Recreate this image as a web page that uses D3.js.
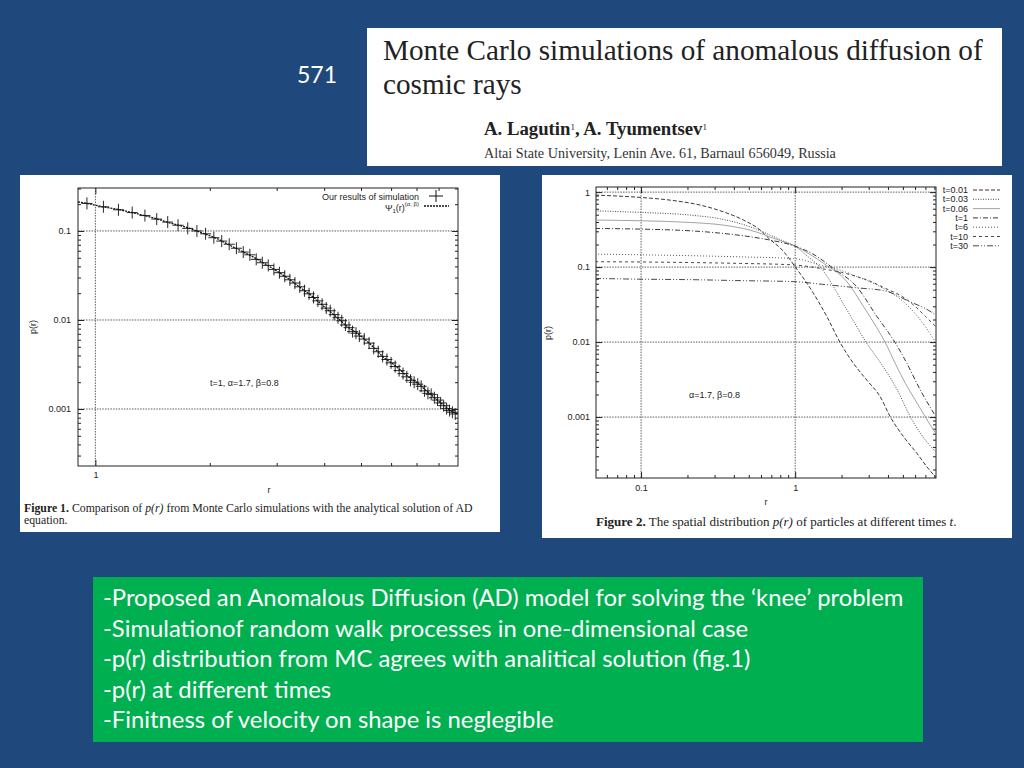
<!DOCTYPE html>
<html>
<head>
<meta charset="UTF-8">
<script src="https://d3js.org/d3.v7.min.js"></script>
<style>
  body { margin: 0; background: #1f497d; }
  svg { display: block; }
</style>
</head>
<body>
<svg id="slide" width="1024" height="768"></svg>
<script>

// ---- slide text ----
var slideNumber = "571";
var titleLines = ["Monte Carlo simulations of anomalous diffusion of", "cosmic rays"];
var authorsLine = "A. Lagutin, A. Tyumentsev";
var affiliationLine = "Altai State University, Lenin Ave. 61, Barnaul 656049, Russia";
var bulletLines = [
  "-Proposed an Anomalous Diffusion (AD) model for solving the \u2018knee\u2019 problem",
  "-Simulationof random walk processes in one-dimensional case",
  "-p(r) distribution from MC agrees with analitical solution (fig.1)",
  "-p(r) at different times",
  "-Finitness of velocity on shape is neglegible"
];

// ---- figure 1: analytical curve + MC points (t=1, alpha=1.7, beta=0.8) ----
var fig1CurveR = [0.9, 0.945, 1.045, 1.145, 1.24, 1.346, 1.458, 1.55, 1.77, 1.92, 2.08, 2.25, 2.42, 2.59, 2.81, 3.02, 3.21, 3.48, 3.73, 4.0, 4.3, 4.61, 4.95, 5.32, 5.71, 6.12, 6.57, 7.05, 7.57, 8.13, 8.72, 8.95];
var fig1CurveP = [0.212, 0.205, 0.187, 0.175, 0.162, 0.149, 0.136, 0.125, 0.107, 0.094, 0.083, 0.0697, 0.0596, 0.0515, 0.0422, 0.0349, 0.0294, 0.0227, 0.0183, 0.0141, 0.0109, 0.0084, 0.0068, 0.00524, 0.00387, 0.00312, 0.00241, 0.00194, 0.0015, 0.00116, 0.00093, 0.00088];
var fig1SimR = [0.95, 1.05, 1.15, 1.25, 1.35, 1.45, 1.55, 1.65, 1.75, 1.85, 1.95, 2.05, 2.15, 2.25, 2.35, 2.45, 2.55, 2.65, 2.75, 2.85, 2.95, 3.05, 3.15, 3.25, 3.35, 3.45, 3.55, 3.65, 3.75, 3.85, 3.95, 4.05, 4.15, 4.25, 4.35, 4.45, 4.55, 4.65, 4.75, 4.85, 4.95, 5.1, 5.25, 5.4, 5.55, 5.7, 5.85, 6.0, 6.15, 6.3, 6.45, 6.6, 6.75, 6.9, 7.05, 7.2, 7.35, 7.5, 7.65, 7.8, 7.95, 8.1, 8.25, 8.4, 8.55, 8.7, 8.85];
var fig1SimP = [0.204, 0.187, 0.173, 0.161, 0.149, 0.136, 0.126, 0.116, 0.107, 0.100, 0.093, 0.084, 0.077, 0.071, 0.064, 0.058, 0.054, 0.048, 0.044, 0.041, 0.037, 0.034, 0.031, 0.0283, 0.026, 0.0236, 0.0213, 0.0197, 0.0179, 0.0164, 0.0150, 0.0136, 0.0127, 0.0115, 0.0106, 0.0098, 0.0088, 0.0082, 0.0074, 0.0071, 0.0066, 0.0061, 0.0055, 0.0048, 0.0044, 0.0039, 0.0036, 0.0033, 0.0030, 0.0027, 0.0025, 0.0023, 0.0021, 0.0020, 0.0019, 0.0018, 0.0016, 0.0015, 0.00146, 0.00134, 0.00126, 0.00117, 0.00109, 0.00101, 0.00096, 0.00092, 0.00088];
var fig1YMajor = [0.1, 0.01, 0.001];
var fig1YLabels = ["0.1", "0.01", "0.001"];
var fig1YMinor = [0.0003, 0.0004, 0.0005, 0.0006, 0.0007, 0.0008, 0.0009, 0.002, 0.003, 0.004, 0.005, 0.006, 0.007, 0.008, 0.009, 0.02, 0.03, 0.04, 0.05, 0.06, 0.07, 0.08, 0.09, 0.2, 0.3];
var fig1XMajor = [1];
var fig1XLabels = ["1"];
var fig1XMinor = [2, 3, 4, 5, 6, 7, 8];

// ---- figure 2: p(r) at different times ----
var fig2Names = ["t=0.01", "t=0.03", "t=0.06", "t=1", "t=6", "t=10", "t=30"];
var fig2R = [
  [0.0503, 0.0986, 0.154, 0.242, 0.342, 0.462, 0.593, 0.675, 0.824, 1.0, 1.315, 1.61, 1.96, 2.39, 2.92, 3.56, 4.14, 5.05, 6.17, 7.16, 8.11],
  [0.0503, 0.0986, 0.208, 0.342, 0.51, 0.689, 0.85, 1.0, 1.2, 1.45, 2.17, 2.9, 3.6, 4.6, 5.6, 6.6, 8.1],
  [0.0503, 0.0986, 0.208, 0.342, 0.51, 0.76, 1.0, 1.53, 2.17, 2.78, 3.39, 3.85, 4.5, 5.2, 6.0, 7.0, 8.1],
  [0.0503, 0.0986, 0.208, 0.342, 0.51, 0.689, 1.0, 1.3, 1.77, 2.51, 3.39, 4.46, 5.31, 6.48, 8.1],
  [0.0503, 0.0986, 0.208, 0.44, 0.975, 1.5, 2.0, 2.5, 3.0, 3.86, 5.0, 6.0, 7.0, 8.2],
  [0.0503, 0.0986, 0.208, 0.44, 0.975, 1.5, 2.0, 2.5, 3.0, 3.86, 5.0, 6.0, 7.0, 8.2],
  [0.0503, 0.0986, 0.208, 0.44, 0.975, 1.5, 2.5, 3.86, 5.47, 7.0, 8.2]
];
var fig2P = [
  [0.912, 0.85, 0.782, 0.671, 0.546, 0.424, 0.311, 0.241, 0.169, 0.101, 0.0446, 0.0217, 0.0098, 0.0052, 0.0031, 0.00187, 0.00101, 0.000546, 0.000328, 0.000217, 0.00016],
  [0.563, 0.536, 0.494, 0.432, 0.345, 0.267, 0.22, 0.19, 0.14, 0.1, 0.0267, 0.0098, 0.0052, 0.0023, 0.001, 0.00058, 0.00035],
  [0.424, 0.415, 0.394, 0.363, 0.311, 0.234, 0.19, 0.112, 0.0637, 0.0296, 0.0155, 0.0098, 0.005, 0.0028, 0.0017, 0.001, 0.00062],
  [0.328, 0.321, 0.305, 0.281, 0.254, 0.229, 0.19, 0.15, 0.096, 0.0546, 0.022, 0.0098, 0.0052, 0.0023, 0.00105],
  [0.149, 0.146, 0.142, 0.137, 0.13, 0.105, 0.09, 0.075, 0.065, 0.05, 0.035, 0.024, 0.016, 0.0098],
  [0.118, 0.117, 0.115, 0.112, 0.107, 0.095, 0.085, 0.075, 0.066, 0.052, 0.04, 0.03, 0.022, 0.016],
  [0.0706, 0.069, 0.068, 0.066, 0.064, 0.059, 0.053, 0.048, 0.035, 0.028, 0.023]
];
var fig2Dash = ["4,2", "1,1.5", null, "5,2,1,2", "1,2", "3,3", "6,2,1,2,1,2"];
var fig2Color = ["#222", "#333", "#999", "#222", "#444", "#333", "#333"];
var fig2YMajor = [1, 0.1, 0.01, 0.001];
var fig2YLabels = ["1", "0.1", "0.01", "0.001"];
var fig2YMinor = [0.0002, 0.0003, 0.0004, 0.0005, 0.0006, 0.0007, 0.0008, 0.0009, 0.002, 0.003, 0.004, 0.005, 0.006, 0.007, 0.008, 0.009, 0.02, 0.03, 0.04, 0.05, 0.06, 0.07, 0.08, 0.09, 0.2, 0.3, 0.4, 0.5, 0.6, 0.7, 0.8, 0.9];
var fig2XMajor = [0.1, 1];
var fig2XLabels = ["0.1", "1"];
var fig2XMinor = [0.06, 0.07, 0.08, 0.09, 0.2, 0.3, 0.4, 0.5, 0.6, 0.7, 0.8, 0.9, 2, 3, 4, 5, 6, 7, 8];

var svg = d3.select("#slide");
var SANS = "Liberation Sans, Arial, sans-serif";
var SERIF = "Liberation Serif, Times New Roman, serif";

// scale a text's font so it spans the given width
function fitWidth(t, w) {
  var cur = t.node().getComputedTextLength();
  var fs = parseFloat(t.attr("font-size")) * w / cur;
  t.attr("font-size", fs);
  return fs;
}

svg.append("rect").attr("width", 1024).attr("height", 768).attr("fill", "#1f497d");

// slide number
svg.append("text").attr("x", 297).attr("y", 83)
  .attr("font-family", "Lato, Open Sans, sans-serif").attr("font-size", 23)
  .attr("fill", "#fff").text(slideNumber);

// paper title block
svg.append("rect").attr("x", 367).attr("y", 28).attr("width", 635).attr("height", 138).attr("fill", "#fff");
var t1 = svg.append("text").attr("x", 383).attr("y", 60)
  .attr("font-family", SERIF).attr("font-size", 24).attr("fill", "#222").text(titleLines[0]);
var titleSize = fitWidth(t1, 600);
svg.append("text").attr("x", 383).attr("y", 94)
  .attr("font-family", SERIF).attr("font-size", titleSize).attr("fill", "#222").text(titleLines[1]);
var auth = svg.append("text").attr("x", 484).attr("y", 135)
  .attr("font-family", SERIF).attr("font-weight", "bold").attr("font-size", 14).attr("fill", "#222");
var names = authorsLine.split(", ");
names.forEach(function(n, i) {
  auth.append("tspan").attr("dy", i ? 5 : 0).text((i ? ", " : "") + n);
  auth.append("tspan").attr("font-size", 9).attr("dy", -5).attr("font-weight", "normal").text("1");
});
fitWidth(auth, 226);
var aff = svg.append("text").attr("x", 484).attr("y", 158)
  .attr("font-family", SERIF).attr("font-size", 11).attr("fill", "#333").text(affiliationLine);
fitWidth(aff, 352);

// generic log-log gnuplot-like panel
function drawPanel(o) {
  var g = svg.append("g");
  var x = d3.scaleLog().domain(o.xDomain).range([o.left, o.right]);
  var y = d3.scaleLog().domain(o.yDomain).range([o.bottom, o.top]);

  g.selectAll(".gx").data(o.xMajor).enter().append("line")
    .attr("x1", function(d) { return x(d); }).attr("x2", function(d) { return x(d); })
    .attr("y1", o.top).attr("y2", o.bottom)
    .attr("stroke", "#333").attr("stroke-width", 0.8).attr("stroke-dasharray", "1.5,1.2");
  g.selectAll(".gy").data(o.yMajor).enter().append("line")
    .attr("y1", function(d) { return y(d); }).attr("y2", function(d) { return y(d); })
    .attr("x1", o.left).attr("x2", o.right)
    .attr("stroke", "#333").attr("stroke-width", 0.8).attr("stroke-dasharray", "1.5,1.2");

  function style(sel) {
    sel.attr("font-size", 9).attr("font-family", SANS);
    sel.select(".domain").remove();
    sel.selectAll(".tick line").attr("stroke", "#222");
    sel.selectAll("text").attr("fill", "#222");
  }
  function lab(labels) { return function(d, i) { return labels[i]; }; }

  g.append("g").attr("transform", "translate(0," + o.bottom + ")")
    .call(d3.axisBottom(x).tickValues(o.xMajor).tickSize(-6).tickPadding(o.xPad).tickFormat(lab(o.xLabels))).call(style);
  g.append("g").attr("transform", "translate(0," + o.bottom + ")")
    .call(d3.axisBottom(x).tickValues(o.xMinor).tickSize(-3).tickFormat("")).call(style);
  g.append("g").attr("transform", "translate(0," + o.top + ")")
    .call(d3.axisTop(x).tickValues(o.xMajor).tickSize(-6).tickFormat("")).call(style);
  g.append("g").attr("transform", "translate(0," + o.top + ")")
    .call(d3.axisTop(x).tickValues(o.xMinor).tickSize(-3).tickFormat("")).call(style);
  g.append("g").attr("transform", "translate(" + o.left + ",0)")
    .call(d3.axisLeft(y).tickValues(o.yMajor).tickSize(-6).tickPadding(o.yPad).tickFormat(lab(o.yLabels))).call(style);
  g.append("g").attr("transform", "translate(" + o.left + ",0)")
    .call(d3.axisLeft(y).tickValues(o.yMinor).tickSize(-3).tickFormat("")).call(style);
  g.append("g").attr("transform", "translate(" + o.right + ",0)")
    .call(d3.axisRight(y).tickValues(o.yMajor).tickSize(-6).tickFormat("")).call(style);
  g.append("g").attr("transform", "translate(" + o.right + ",0)")
    .call(d3.axisRight(y).tickValues(o.yMinor).tickSize(-3).tickFormat("")).call(style);

  g.append("rect").attr("x", o.left).attr("y", o.top)
    .attr("width", o.right - o.left).attr("height", o.bottom - o.top)
    .attr("fill", "none").attr("stroke", "#222").attr("stroke-width", 1);

  g.append("clipPath").attr("id", o.id).append("rect")
    .attr("x", o.left).attr("y", o.top).attr("width", o.right - o.left).attr("height", o.bottom - o.top);
  var plot = g.append("g").attr("clip-path", "url(#" + o.id + ")");

  g.append("text").attr("x", o.rX).attr("y", o.rY).attr("text-anchor", "middle")
    .attr("font-family", SANS).attr("font-size", 9).attr("fill", "#222").text("r");
  g.append("text").attr("transform", "translate(" + o.pX + "," + o.pY + ") rotate(-90)")
    .attr("text-anchor", "middle").attr("font-family", SANS).attr("font-size", 9).attr("fill", "#222")
    .text("p(r)");
  return { x: x, y: y, g: g, plot: plot };
}

// ---------- Figure 1 ----------
svg.append("rect").attr("x", 20).attr("y", 175).attr("width", 480).attr("height", 357).attr("fill", "#fff");
var p1 = drawPanel({
  id: "clip1", left: 78, right: 458, top: 188, bottom: 466,
  xDomain: [0.9, 9], yDomain: [0.000229, 0.304],
  xMajor: fig1XMajor, xLabels: fig1XLabels, xMinor: fig1XMinor,
  yMajor: fig1YMajor, yLabels: fig1YLabels, yMinor: fig1YMinor,
  xPad: 6, yPad: 7, rX: 269, rY: 493, pX: 36, pY: 327
});
var line1 = d3.line().x(function(d) { return p1.x(d[0]); }).y(function(d) { return p1.y(d[1]); })
  .curve(d3.curveMonotoneX);
p1.plot.append("path").datum(d3.zip(fig1CurveR, fig1CurveP)).attr("d", line1)
  .attr("fill", "none").attr("stroke", "#111").attr("stroke-width", 1.3).attr("stroke-dasharray", "2,1");
var sims = p1.plot.selectAll(".sim").data(d3.zip(fig1SimR, fig1SimP)).enter().append("g")
  .attr("transform", function(d) { return "translate(" + p1.x(d[0]) + "," + p1.y(d[1]) + ")"; });
sims.append("line").attr("x1", -5.5).attr("x2", 5.5).attr("stroke", "#111").attr("stroke-width", 0.9);
sims.append("line").attr("y1", -6).attr("y2", 6).attr("stroke", "#111").attr("stroke-width", 0.9);

// legend fig 1
p1.g.append("text").attr("x", 419).attr("y", 200).attr("text-anchor", "end")
  .attr("font-family", SANS).attr("font-size", 9).attr("fill", "#222").text("Our results of simulation");
p1.g.append("line").attr("x1", 429).attr("x2", 443).attr("y1", 196).attr("y2", 196).attr("stroke", "#111");
p1.g.append("line").attr("x1", 436).attr("x2", 436).attr("y1", 190).attr("y2", 202).attr("stroke", "#111");
var psi = p1.g.append("text").attr("x", 419).attr("y", 211).attr("text-anchor", "end")
  .attr("font-family", SANS).attr("font-size", 9).attr("fill", "#222");
psi.append("tspan").text("\u03A8");
psi.append("tspan").attr("font-size", 6).attr("dy", 2).text("1");
psi.append("tspan").attr("dy", -2).text("(r)");
psi.append("tspan").attr("font-size", 6).attr("dy", -5).text("(\u03B1, \u03B2)");
p1.g.append("line").attr("x1", 424).attr("x2", 449).attr("y1", 206).attr("y2", 206)
  .attr("stroke", "#111").attr("stroke-width", 1.3).attr("stroke-dasharray", "2,1");
p1.g.append("text").attr("x", 210).attr("y", 386)
  .attr("font-family", SANS).attr("font-size", 9).attr("fill", "#222").text("t=1, \u03B1=1.7, \u03B2=0.8");

var c1 = svg.append("text").attr("x", 24).attr("y", 512).attr("font-family", SERIF).attr("font-size", 11).attr("fill", "#222");
c1.append("tspan").attr("font-weight", "bold").text("Figure 1.");
c1.append("tspan").text(" Comparison of ");
c1.append("tspan").attr("font-style", "italic").text("p(r)");
c1.append("tspan").text(" from Monte Carlo simulations with the analytical solution of AD");
var capSize = fitWidth(c1, 449);
svg.append("text").attr("x", 24).attr("y", 524).attr("font-family", SERIF).attr("font-size", capSize)
  .attr("fill", "#222").text("equation.");

// ---------- Figure 2 ----------
svg.append("rect").attr("x", 542).attr("y", 175).attr("width", 470).attr("height", 363).attr("fill", "#fff");
var p2 = drawPanel({
  id: "clip2", left: 596, right: 936, top: 187, bottom: 478,
  xDomain: [0.051, 8.2], yDomain: [0.000154, 1.17],
  xMajor: fig2XMajor, xLabels: fig2XLabels, xMinor: fig2XMinor,
  yMajor: fig2YMajor, yLabels: fig2YLabels, yMinor: fig2YMinor,
  xPad: 7, yPad: 6, rX: 766, rY: 505, pX: 551, pY: 333
});
var line2 = d3.line().x(function(d) { return p2.x(d[0]); }).y(function(d) { return p2.y(d[1]); })
  .curve(d3.curveMonotoneX);
fig2Names.forEach(function(name, i) {
  p2.plot.append("path").datum(d3.zip(fig2R[i], fig2P[i])).attr("d", line2)
    .attr("fill", "none").attr("stroke", fig2Color[i]).attr("stroke-width", 0.9)
    .attr("stroke-dasharray", fig2Dash[i]);
  var ly = 193 + i * 9.3;
  p2.g.append("text").attr("x", 968).attr("y", ly).attr("text-anchor", "end")
    .attr("font-family", SANS).attr("font-size", 9).attr("fill", "#222").text(name);
  p2.g.append("line").attr("x1", 973).attr("x2", 1000).attr("y1", ly - 3).attr("y2", ly - 3)
    .attr("stroke", fig2Color[i]).attr("stroke-width", 0.9).attr("stroke-dasharray", fig2Dash[i]);
});
p2.g.append("text").attr("x", 689).attr("y", 398)
  .attr("font-family", SANS).attr("font-size", 9).attr("fill", "#222").text("\u03B1=1.7, \u03B2=0.8");

var c2 = svg.append("text").attr("x", 596).attr("y", 526).attr("font-family", SERIF).attr("font-size", 11).attr("fill", "#222");
c2.append("tspan").attr("font-weight", "bold").text("Figure 2.");
c2.append("tspan").text(" The spatial distribution ");
c2.append("tspan").attr("font-style", "italic").text("p(r)");
c2.append("tspan").text(" of particles at different times ");
c2.append("tspan").attr("font-style", "italic").text("t");
c2.append("tspan").text(".");
fitWidth(c2, 361);

// ---------- summary box ----------
svg.append("rect").attr("x", 93).attr("y", 577).attr("width", 830).attr("height", 165).attr("fill", "#00b050");
var b0 = svg.append("text").attr("x", 103).attr("y", 606)
  .attr("font-family", "Lato, Open Sans, sans-serif").attr("font-size", 21).attr("fill", "#fff").text(bulletLines[0]);
var bSize = fitWidth(b0, 801);
bulletLines.slice(1).forEach(function(s, i) {
  svg.append("text").attr("x", 103).attr("y", 637 + i * 30.4)
    .attr("font-family", "Lato, Open Sans, sans-serif").attr("font-size", bSize).attr("fill", "#fff").text(s);
});

</script>
</body>
</html>
